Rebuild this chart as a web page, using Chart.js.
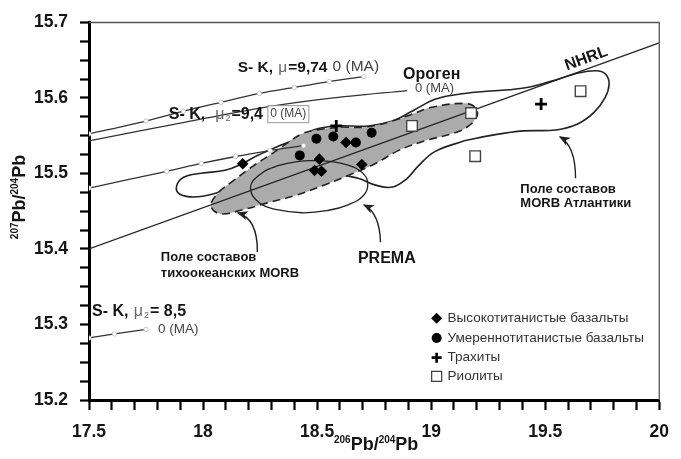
<!DOCTYPE html>
<html>
<head>
<meta charset="utf-8">
<script src="https://cdn.jsdelivr.net/npm/chart.js@4.4.1/dist/chart.umd.min.js"></script>
<style>
html, body { margin: 0; padding: 0; background: #fff; }
#wrap { width: 681px; height: 459px; }
</style>
</head>
<body>
<div id="wrap"><canvas id="c" width="681" height="459"></canvas></div>
<script>
// axes
var xTickLabels = ['17.5', '18', '18.5', '19', '19.5', '20'];
var yTickLabels = ['15.2', '15.3', '15.4', '15.5', '15.6', '15.7'];

// samples (206Pb/204Pb, 207Pb/204Pb)
var highTiBasalts = [[18.174, 15.513], [18.510, 15.519], [18.489, 15.504], [18.519, 15.503], [18.627, 15.541], [18.696, 15.512]];
var modTiBasalts = [[18.424, 15.524], [18.497, 15.546], [18.571, 15.549], [18.670, 15.541], [18.739, 15.554]];
var trachytes = [[18.584, 15.563], [19.482, 15.592]];
var rhyolites = [[18.916, 15.563], [19.175, 15.580], [19.193, 15.523], [19.655, 15.609]];

// reference lines
var nhrl = [[17.5, 15.400], [20, 15.673]];
var sk974 = [[17.5, 15.5525], [17.75, 15.5695], [17.914, 15.5825], [18.079, 15.5943], [18.247, 15.606], [18.40, 15.614], [18.553, 15.6217], [18.705, 15.6282]];
var orogen = [[17.5, 15.5433], [17.923, 15.5681], [18.269, 15.5877], [18.553, 15.5995], [18.895, 15.6099]];
var sk94 = [[17.5, 15.4807], [17.841, 15.5029], [17.992, 15.5133], [18.143, 15.5225], [18.294, 15.5303], [18.441, 15.5368]];
var sk85 = [[17.5, 15.2822], [17.612, 15.2875], [17.75, 15.2935]];

// fields (outlines)
var pacificField = [[18.605, 15.5616], [18.713, 15.5616], [18.830, 15.5695], [18.916, 15.5786], [19.003, 15.5877], [19.145, 15.5929],
  [19.193, 15.5877], [19.201, 15.5760], [19.158, 15.5616], [19.089, 15.5525], [18.972, 15.5433], [18.856, 15.5303], [18.756, 15.5133],
  [18.627, 15.4963], [18.541, 15.4859], [18.411, 15.4715], [18.282, 15.4611], [18.174, 15.4520], [18.074, 15.4467], [18.035, 15.4572],
  [18.066, 15.4742], [18.130, 15.4898], [18.217, 15.5094], [18.303, 15.5264], [18.377, 15.5420], [18.433, 15.5525], [18.497, 15.5577],
  [18.605, 15.5616]];
var atlanticField = [[19.145, 15.5433], [19.275, 15.5512], [19.404, 15.5564], [19.547, 15.5577], [19.642, 15.5655], [19.715, 15.5812],
  [19.763, 15.6008], [19.780, 15.6178], [19.767, 15.6308], [19.728, 15.6360], [19.650, 15.6334], [19.521, 15.6217], [19.391, 15.6125],
  [19.231, 15.6086], [19.115, 15.6047], [19.016, 15.5982], [18.916, 15.5825], [18.830, 15.5695], [18.726, 15.5629], [18.584, 15.5629],
  [18.484, 15.5577], [18.411, 15.5460], [18.325, 15.5355], [18.238, 15.5238], [18.174, 15.5133], [18.096, 15.5042], [17.992, 15.5003],
  [17.915, 15.4950], [17.884, 15.4833], [17.897, 15.4728], [17.958, 15.4689], [18.044, 15.4728], [18.139, 15.4833], [18.368, 15.4872],
  [18.584, 15.4977], [18.679, 15.4937], [18.756, 15.4846], [18.830, 15.4820], [18.895, 15.4937], [18.942, 15.5094], [19.016, 15.5290],
  [19.145, 15.5433]];
var premaField = [[18.487, 15.5170], [18.541, 15.5165], [18.636, 15.5110], [18.700, 15.5005], [18.722, 15.4872], [18.705, 15.4715],
  [18.636, 15.4585], [18.541, 15.4507], [18.433, 15.4480], [18.325, 15.4520], [18.247, 15.4611], [18.208, 15.4807], [18.247, 15.4980],
  [18.325, 15.5100], [18.433, 15.5165], [18.487, 15.5170]];

// arrows: start, control, head
var arrowPacific = [[18.238, 15.396], [18.240, 15.440], [18.152, 15.448]];
var arrowPrema = [[18.778, 15.409], [18.774, 15.448], [18.705, 15.4585]];
var arrowAtlantic = [[19.633, 15.4937], [19.633, 15.5368], [19.564, 15.5486]];

var FONT = '"Liberation Sans", Arial, sans-serif';

function pts(arr) { return arr.map(function(p) { return { x: p[0], y: p[1] }; }); }

function B(t, s) { return { t: t, f: 'bold ' + s + 'px ' + FONT, c: '#151515' }; }
function N(t, s, c) { return { t: t, f: s + 'px ' + FONT, c: c || '#333' }; }
function MU(s) { return { t: 'μ', f: s + 'px ' + FONT, c: '#666' }; }
function SUB(t) { return { t: t, f: '9px ' + FONT, c: '#666', dy: 4 }; }

var textLabels = [
  { x: 18.152, y: 15.640, parts: [B('S- K, ', 15.5), MU(15.5), B('=9,74', 15.5)] },
  { x: 18.568, y: 15.641, parts: [N('0 (MA)', 15.5, '#444')] },
  { x: 18.877, y: 15.631, parts: [B('Ороген', 16)] },
  { x: 18.929, y: 15.6125, parts: [N('0 (MA)', 13, '#444')] },
  { x: 17.850, y: 15.5786, parts: [B('S- K,  ', 16), MU(16), SUB('2'), B('=9,4', 16)] },
  { x: 17.513, y: 15.3175, parts: [B('S- K, ', 16), MU(16), SUB('2'), B('= 8,5', 16)] },
  { x: 17.802, y: 15.294, parts: [N('0 (MA)', 13.5, '#444')] },
  { x: 17.815, y: 15.389, parts: [B('Поле составов', 13)] },
  { x: 17.815, y: 15.368, parts: [B('тихоокеанских MORB', 13)] },
  { x: 18.679, y: 15.387, parts: [B('PREMA', 16)] },
  { x: 19.391, y: 15.479, parts: [B('Поле составов', 13)] },
  { x: 19.391, y: 15.461, parts: [B('MORB Атлантики', 13)] }
];
var boxedLabel = { x: 18.295, y: 15.5786, text: '0 (MA)' };
var nhrlLabel = { x: 19.680, y: 15.652, text: 'NHRL' };

var legendItems = [
  { style: 'diamond', text: 'Высокотитанистые базальты', y: 15.3084 },
  { style: 'circle', text: 'Умереннотитанистые базальты', y: 15.2822 },
  { style: 'cross', text: 'Трахиты', y: 15.2561 },
  { style: 'square', text: 'Риолиты', y: 15.2313 }
];
var legendX = 19.024, legendTextX = 19.072;

function drawParts(ctx, x, y, parts) {
  var cx = x;
  parts.forEach(function(p) {
    ctx.font = p.f;
    ctx.fillStyle = p.c;
    ctx.fillText(p.t, cx, y + (p.dy || 0));
    cx += ctx.measureText(p.t).width + 1;
  });
  return cx;
}

function marker(ctx, style, x, y) {
  ctx.save();
  ctx.fillStyle = '#000';
  ctx.strokeStyle = '#000';
  if (style === 'diamond') {
    ctx.beginPath(); ctx.moveTo(x, y - 5.5); ctx.lineTo(x + 5.5, y); ctx.lineTo(x, y + 5.5); ctx.lineTo(x - 5.5, y); ctx.closePath(); ctx.fill();
  } else if (style === 'circle') {
    ctx.beginPath(); ctx.arc(x, y, 5, 0, Math.PI * 2); ctx.fill();
  } else if (style === 'cross') {
    ctx.lineWidth = 2.6; ctx.beginPath(); ctx.moveTo(x - 5, y); ctx.lineTo(x + 5, y); ctx.moveTo(x, y - 5); ctx.lineTo(x, y + 5); ctx.stroke();
  } else {
    ctx.fillStyle = '#fff'; ctx.strokeStyle = '#444'; ctx.lineWidth = 1.3;
    ctx.fillRect(x - 5, y - 5, 10, 10); ctx.strokeRect(x - 5, y - 5, 10, 10);
  }
  ctx.restore();
}

function drawArrow(ctx, xs, ys, a) {
  var p0 = [xs.getPixelForValue(a[0][0]), ys.getPixelForValue(a[0][1])];
  var c = [xs.getPixelForValue(a[1][0]), ys.getPixelForValue(a[1][1])];
  var p1 = [xs.getPixelForValue(a[2][0]), ys.getPixelForValue(a[2][1])];
  ctx.save();
  ctx.strokeStyle = '#222'; ctx.fillStyle = '#222'; ctx.lineWidth = 1.4;
  ctx.beginPath(); ctx.moveTo(p0[0], p0[1]); ctx.quadraticCurveTo(c[0], c[1], p1[0], p1[1]); ctx.stroke();
  var ang = Math.atan2(p1[1] - c[1], p1[0] - c[0]);
  ctx.translate(p1[0], p1[1]); ctx.rotate(ang);
  ctx.beginPath(); ctx.moveTo(1, 0); ctx.lineTo(-10, -4.5); ctx.lineTo(-7, 0); ctx.lineTo(-10, 4.5); ctx.closePath(); ctx.fill();
  ctx.restore();
}

var overlay = {
  id: 'overlay',
  afterDraw: function(chart) {
    var ctx = chart.ctx, xs = chart.scales.x, ys = chart.scales.y, a = chart.chartArea;
    ctx.save();
    // top and right frame
    ctx.strokeStyle = '#555'; ctx.lineWidth = 1.3;
    ctx.beginPath(); ctx.moveTo(a.left, a.top); ctx.lineTo(a.right, a.top); ctx.lineTo(a.right, a.bottom); ctx.stroke();

    ctx.textBaseline = 'middle'; ctx.textAlign = 'left';
    textLabels.forEach(function(l) { drawParts(ctx, xs.getPixelForValue(l.x), ys.getPixelForValue(l.y), l.parts); });

    // boxed 0 (MA)
    var bx = xs.getPixelForValue(boxedLabel.x), by = ys.getPixelForValue(boxedLabel.y);
    ctx.font = '12px ' + FONT;
    var bw = ctx.measureText(boxedLabel.text).width;
    ctx.fillStyle = '#fff'; ctx.fillRect(bx - 2, by - 8, bw + 4, 16);
    ctx.strokeStyle = '#999'; ctx.lineWidth = 1; ctx.strokeRect(bx - 2.5, by - 8.5, bw + 5, 17);
    ctx.fillStyle = '#444'; ctx.fillText(boxedLabel.text, bx, by);

    // NHRL
    ctx.save();
    ctx.translate(xs.getPixelForValue(nhrlLabel.x), ys.getPixelForValue(nhrlLabel.y));
    ctx.rotate(-20 * Math.PI / 180);
    ctx.font = 'bold 16px ' + FONT; ctx.fillStyle = '#151515'; ctx.textAlign = 'center';
    ctx.fillText(nhrlLabel.text, 0, 0);
    ctx.restore();

    drawArrow(ctx, xs, ys, arrowPacific);
    drawArrow(ctx, xs, ys, arrowPrema);
    drawArrow(ctx, xs, ys, arrowAtlantic);

    // legend
    legendItems.forEach(function(it) {
      var py = ys.getPixelForValue(it.y);
      marker(ctx, it.style, xs.getPixelForValue(legendX), py);
      ctx.font = '13.5px ' + FONT; ctx.fillStyle = '#333'; ctx.textAlign = 'left';
      ctx.fillText(it.text, xs.getPixelForValue(legendTextX), py);
    });

    // axis titles
    ctx.textBaseline = 'alphabetic';
    var titleParts = [
      { t: '206', f: 'bold 10px ' + FONT, dy: -7 }, { t: 'Pb/', f: 'bold 18px ' + FONT, dy: 0 },
      { t: '204', f: 'bold 10px ' + FONT, dy: -7 }, { t: 'Pb', f: 'bold 18px ' + FONT, dy: 0 }
    ];
    function titleWidth(parts) {
      var w = 0;
      parts.forEach(function(p) { ctx.font = p.f; w += ctx.measureText(p.t).width; });
      return w;
    }
    function drawTitle(parts, x0, y0) {
      var cx = x0;
      parts.forEach(function(p) { ctx.font = p.f; ctx.fillStyle = '#151515'; ctx.fillText(p.t, cx, y0 + p.dy); cx += ctx.measureText(p.t).width; });
    }
    var tw = titleWidth(titleParts);
    drawTitle(titleParts, (a.left + a.right) / 2 - tw / 2 + 2, 450);
    var yParts = titleParts.slice();
    yParts[0] = { t: '207', f: 'bold 10px ' + FONT, dy: -7 };
    var tw2 = titleWidth(yParts);
    ctx.save();
    ctx.translate(25, 197);
    ctx.rotate(-Math.PI / 2);
    drawTitle(yParts, -tw2 / 2, 0);
    ctx.restore();
    ctx.restore();
  }
};

function lineSet(arr, opts) {
  var d = {
    data: pts(arr), showLine: true, tension: 0, borderColor: '#222', borderWidth: 1.3,
    pointRadius: 0, fill: false, cubicInterpolationMode: 'default'
  };
  for (var k in opts) d[k] = opts[k];
  return d;
}
function growthSet(arr, order) {
  return lineSet(arr, {
    borderColor: '#333', borderWidth: 1.3, tension: 0.3, pointRadius: 2.2,
    pointBackgroundColor: '#fff', pointBorderColor: '#bbb', pointBorderWidth: 0.8, order: order
  });
}

function snap(v, labels) {
  for (var i = 0; i < labels.length; i++) if (Math.abs(parseFloat(labels[i]) - v) < 1e-6) return labels[i];
  return '';
}

new Chart(document.getElementById('c'), {
  type: 'scatter',
  data: {
    datasets: [
      { label: 'Высокотитанистые базальты', data: pts(highTiBasalts), pointStyle: 'rectRot', pointRadius: 5.8, backgroundColor: '#000', borderColor: '#000', borderWidth: 0, order: 0 },
      { label: 'Умереннотитанистые базальты', data: pts(modTiBasalts), pointStyle: 'circle', pointRadius: 5, backgroundColor: '#000', borderColor: '#000', borderWidth: 0, order: 0 },
      { label: 'Трахиты', data: pts(trachytes), pointStyle: 'cross', pointRadius: 6, borderColor: '#000', borderWidth: 2.8, order: 0 },
      { label: 'Риолиты', data: pts(rhyolites), pointStyle: 'rect', pointRadius: 7.5, backgroundColor: '#fff', borderColor: '#444', borderWidth: 1.4, order: 0 },
      growthSet(sk974, 1),
      lineSet(orogen, { borderColor: '#333', tension: 0.3, order: 1 }),
      growthSet(sk94, 1),
      growthSet(sk85, 1),
      lineSet(nhrl, { borderWidth: 1.2, order: 2 }),
      lineSet(premaField, { borderWidth: 1.3, tension: 0.45, order: 2 }),
      lineSet(pacificField, { borderWidth: 1.6, borderDash: [8, 5], tension: 0.4, fill: 'shape', backgroundColor: '#ababab', order: 3 }),
      lineSet(atlanticField, { borderWidth: 1.6, tension: 0.4, order: 4 })
    ]
  },
  options: {
    responsive: false,
    animation: false,
    events: [],
    layout: { padding: { top: 17, right: 13, left: 0, bottom: 0 } },
    plugins: { legend: { display: false }, tooltip: { enabled: false } },
    scales: {
      x: {
        type: 'linear', min: 17.5, max: 20,
        afterFit: function(s) { s.height = 59; },
        border: { display: true, color: '#000', width: 3 },
        grid: { drawOnChartArea: false, drawTicks: true, tickLength: 10, tickColor: '#000', tickWidth: 2.2 },
        ticks: {
          stepSize: 0.1, autoSkip: false, maxRotation: 0, padding: 12, color: '#151515',
          font: { family: FONT, size: 17.5, weight: 'bold' },
          callback: function(v) { return snap(v, xTickLabels); }
        }
      },
      y: {
        type: 'linear', min: 15.2, max: 15.7,
        afterFit: function(s) { s.width = 89; },
        border: { display: true, color: '#000', width: 3 },
        grid: { drawOnChartArea: false, drawTicks: true, tickLength: 9, tickColor: '#000', tickWidth: 2.2 },
        ticks: {
          stepSize: 0.025, autoSkip: false, padding: 12, color: '#151515',
          font: { family: FONT, size: 17.5, weight: 'bold' },
          callback: function(v) { return snap(v, yTickLabels); }
        }
      }
    }
  },
  plugins: [overlay]
});
</script>
</body>
</html>
